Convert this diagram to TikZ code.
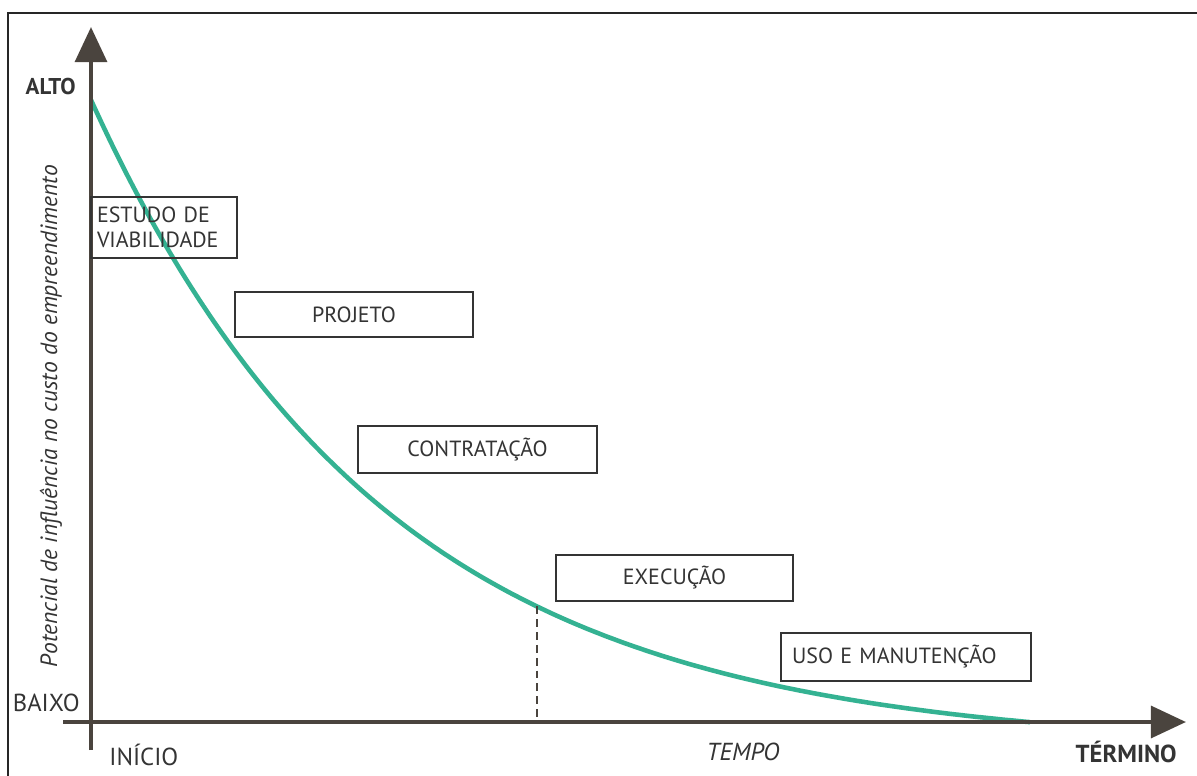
\documentclass[tikz,border=0pt]{standalone}
\usepackage{fontspec}
\setmainfont{PT Sans}
\usetikzlibrary{arrows.meta}
\definecolor{axisbrown}{RGB}{74,68,62}
\definecolor{curvegreen}{RGB}{52,178,146}
\definecolor{inkgray}{RGB}{52,52,52}
\begin{document}
\begin{tikzpicture}[x=0.02cm,y=-0.02cm,
  phase/.style={draw=inkgray, line width=1.2pt, text=inkgray,
    font=\fontsize{12.5}{14.2}\selectfont, inner sep=0pt},
  axisline/.style={draw=axisbrown, line width=2.6pt,
    -{Triangle[length=20pt,width=18pt]}},
  tick/.style={text=inkgray, font=\fontsize{14}{16}\selectfont, inner sep=0pt},
  dropline/.style={draw=axisbrown, line width=1pt, dash pattern=on 4.5pt off 2.8pt},
  curve/.style={draw=curvegreen, line width=2.6pt}]
\useasboundingbox (0,0) rectangle (1197,776);
\fill[white] (0,0) rectangle (1197,776);
% outer frame
\draw[line width=1.2pt, black!85] (8,800) -- (8,13) -- (1230,13);

% axes
\coordinate (origin) at (91,722);
\coordinate (ybottom) at (91,750);
\coordinate (ytop) at (91,27);
\coordinate (xleft) at (63,722);
\coordinate (xright) at (1186,722);

% influence curve
\draw[curve] plot[domain=0:939, samples=160]
  ({91+\x}, {722-622*(exp(-0.0034*\x)-0.0411)/0.9589});

% drop line at the start of execution
\coordinate (drop) at (537, {722-622*(exp(-0.0034*446)-0.0411)/0.9589});
\draw[dropline] (drop) -- (drop |- origin);

\draw[axisline] (ybottom) -- (ytop);
\draw[axisline] (xleft) -- (xright);

% phases
\node[phase, minimum width=2.92cm, minimum height=1.22cm, text width=2.68cm,
  align=left] (estudo) at (164,227.5) {ESTUDO DE\\VIABILIDADE};
\node[phase, minimum width=4.76cm, minimum height=0.9cm] (projeto) at (354,314.5) {PROJETO};
\node[phase, minimum width=4.78cm, minimum height=0.94cm] (contratacao) at (477.5,449.5) {CONTRATAÇÃO};
\node[phase, minimum width=4.74cm, minimum height=0.92cm] (execucao) at (674.5,578) {EXECUÇÃO};
\node[phase, minimum width=5.0cm, minimum height=0.96cm, text width=4.56cm,
  align=left] (uso) at (906,657) {USO E MANUTENÇÃO};

% axis labels
\node[tick, font=\fontsize{13}{15}\selectfont\bfseries, anchor=east] (alto) at (76,87) {ALTO};
\node[tick, anchor=east] (baixo) at (80,703) {BAIXO};
\node[tick, anchor=west] (inicio) at (109,755) {INÍCIO};
\node[tick, font=\fontsize{14}{16}\selectfont\bfseries, anchor=east] (termino) at (1177,752) {TÉRMINO};
\node[tick, font=\fontsize{14}{16}\selectfont\itshape] (tempo) at (743,752) {TEMPO};
\node[tick, font=\fontsize{13.4}{15}\selectfont\itshape, rotate=90] (ylabel) at (51,416)
  {Potencial de influência no custo do empreendimento};
\end{tikzpicture}
\end{document}
